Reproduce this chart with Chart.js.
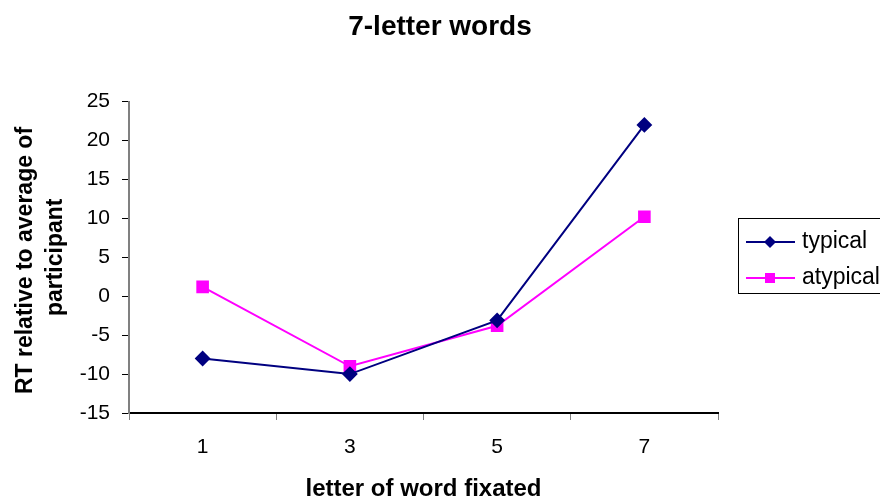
<!DOCTYPE html>
<html>
<head>
<meta charset="utf-8">
<script src="https://cdn.jsdelivr.net/npm/chart.js@4/dist/chart.umd.min.js"></script>
<style>
  html, body { margin: 0; padding: 0; background: #fff; }
  #wrap { width: 880px; height: 501px; }
</style>
</head>
<body>
<div id="wrap"><canvas id="chart"></canvas></div>
<script>
const letters = ['1', '3', '5', '7'];
const typical = [-8, -10, -3.1, 22];
const atypical = [1.2, -9, -3.8, 10.2];
const yMin = -15;
const yMax = 25;
const yStep = 5;

const FONT = 'Arial, "Liberation Sans", sans-serif';

// excel-style boxed legend with line + marker
const boxLegend = {
  id: 'boxLegend',
  afterDraw(chart) {
    const ctx = chart.ctx;
    const x = 738, y = 218, w = 150, h = 75;
    ctx.save();
    ctx.strokeStyle = '#000';
    ctx.lineWidth = 1;
    ctx.strokeRect(x + 0.5, y + 0.5, w, h);
    chart.data.datasets.forEach((ds, i) => {
      const cy = y + 24 + i * 36;
      ctx.strokeStyle = ds.borderColor;
      ctx.lineWidth = 2;
      ctx.beginPath();
      ctx.moveTo(x + 8, cy);
      ctx.lineTo(x + 57, cy);
      ctx.stroke();
      ctx.fillStyle = ds.backgroundColor;
      const mx = x + 32;
      if (ds.pointStyle === 'rectRot') {
        ctx.beginPath();
        ctx.moveTo(mx, cy - 6);
        ctx.lineTo(mx + 6, cy);
        ctx.lineTo(mx, cy + 6);
        ctx.lineTo(mx - 6, cy);
        ctx.closePath();
        ctx.fill();
      } else {
        ctx.fillRect(mx - 5, cy - 5, 10, 10);
      }
      ctx.fillStyle = '#000';
      ctx.font = '23px ' + FONT;
      ctx.textBaseline = 'middle';
      ctx.fillText(ds.label, x + 64, cy);
    });
    ctx.restore();
  }
};

new Chart(document.getElementById('chart'), {
  type: 'line',
  data: {
    labels: letters,
    datasets: [
      {
        label: 'typical',
        data: typical,
        borderColor: '#000080',
        backgroundColor: '#000080',
        borderWidth: 2,
        pointStyle: 'rectRot',
        pointRadius: 6.5,
        pointHoverRadius: 6.5,
        tension: 0
      },
      {
        label: 'atypical',
        data: atypical,
        borderColor: '#ff00ff',
        backgroundColor: '#ff00ff',
        borderWidth: 2,
        pointStyle: 'rect',
        pointRadius: 7.5,
        pointHoverRadius: 7.5,
        tension: 0
      }
    ]
  },
  options: {
    responsive: true,
    maintainAspectRatio: false,
    animation: false,
    layout: {
      padding: { left: 0, right: 0, top: 0, bottom: 0 }
    },
    plugins: {
      legend: { display: false },
      tooltip: { enabled: false },
      title: {
        display: true,
        text: '7-letter words',
        color: '#000',
        font: { family: FONT, size: 28, weight: 'bold' },
        padding: { top: 10, bottom: 58 }
      }
    },
    scales: {
      x: {
        offset: true,
        afterFit: (s) => { s.height = 88; },
        grid: {
          offset: true,
          drawOnChartArea: false,
          drawTicks: true,
          tickLength: 7,
          color: '#808080'
        },
        border: { color: '#000', width: 2 },
        ticks: {
          color: '#000',
          font: { family: FONT, size: 21 },
          padding: 15
        },
        title: {
          display: true,
          text: 'letter of word fixated',
          color: '#000',
          font: { family: FONT, size: 24, weight: 'bold', lineHeight: 1 },
          padding: { top: 0, bottom: 0 }
        }
      },
      y: {
        min: yMin,
        max: yMax,
        afterFit: (s) => { s.width = 129; },
        grid: {
          drawOnChartArea: false,
          drawTicks: true,
          tickLength: 7,
          color: '#000'
        },
        border: { color: '#808080', width: 2 },
        ticks: {
          stepSize: yStep,
          color: '#000',
          font: { family: FONT, size: 21 },
          padding: 12
        },
        title: {
          display: true,
          text: ['RT relative to average of ', 'participant'],
          color: '#000',
          font: { family: FONT, size: 23, weight: 'bold', lineHeight: 1.3 },
          padding: { top: 11, bottom: 0 }
        }
      },
      // empty right-hand axis, only reserves room for the legend box
      side: {
        axis: 'y',
        position: 'right',
        afterFit: (s) => { s.width = 162; },
        grid: { display: false },
        border: { display: false },
        ticks: { display: false }
      }
    }
  },
  plugins: [boxLegend]
});
</script>
</body>
</html>
